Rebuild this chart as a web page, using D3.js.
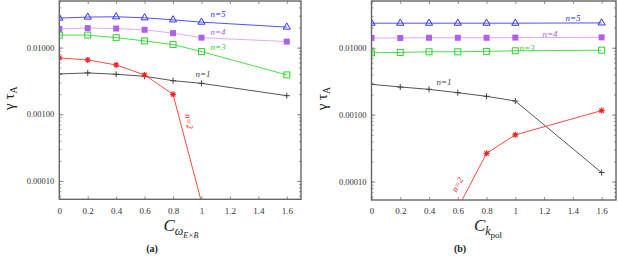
<!DOCTYPE html>
<html><head><meta charset="utf-8">
<script src="https://cdn.jsdelivr.net/npm/d3@7"></script>
<style>body{margin:0;background:#fff}svg{display:block}text{font-family:"Liberation Serif","Times New Roman",serif}</style>
</head><body>
<svg id="c" width="618" height="256"></svg>
<script>
// ---- data ----
const xTicks = [0, 0.2, 0.4, 0.6, 0.8, 1, 1.2, 1.4, 1.6];
const yTicks = [0.0001, 0.001, 0.01];
const yTickLabels = ["0.00010", "0.00100", "0.01000"];
const xA = [0, 0.2, 0.4, 0.6, 0.8, 1.0, 1.6];
const a_n5 = [0.0277, 0.0287, 0.0290, 0.0280, 0.0261, 0.0241, 0.0203];
const a_n4 = [0.0191, 0.0196, 0.0193, 0.0185, 0.0165, 0.0141, 0.0123];
const a_n3 = [0.0154, 0.0154, 0.0141, 0.0126, 0.0111, 0.00871, 0.00389];
const a_n1 = [0.00402, 0.00417, 0.00398, 0.00371, 0.00319, 0.00291, 0.00190];
const a_n2x = [0, 0.2, 0.4, 0.6, 0.8, 1.0];
const a_n2 = [0.0070, 0.00653, 0.00549, 0.00389, 0.00199, 0.000048];
const xB = [0, 0.2, 0.4, 0.6, 0.8, 1.0, 1.6];
const b_n5 = [0.0233, 0.0233, 0.0233, 0.0233, 0.0233, 0.0233, 0.0235];
const b_n4 = [0.0140, 0.0140, 0.0141, 0.0141, 0.0141, 0.0142, 0.0143];
const b_n3 = [0.0084, 0.00852, 0.00871, 0.00871, 0.00883, 0.00901, 0.0092];
const b_n1 = [0.00284, 0.00259, 0.00239, 0.00213, 0.00188, 0.00160, 0.000136];
const b_n2x = [0.6, 0.8, 1.0, 1.6];
const b_n2 = [0.000040, 0.000264, 0.000499, 0.00115];

const svg = d3.select("#c");
const styles = {
  n5: {line: "#5050ff", mark: "#3030ff", sym: "tri"},
  n4: {line: "#dcaaff", mark: "#b060e8", sym: "fsq"},
  n3: {line: "#48e048", mark: "#30d030", sym: "osq"},
  n1: {line: "#555", mark: "#444", sym: "plus"},
  n2: {line: "#ff4848", mark: "#ff2020", sym: "star"}
};

function panel(cfg) {
  const x = d3.scaleLinear().domain([0, 1.7]).range([cfg.x0, cfg.x1]);
  const y = d3.scaleLog().domain([5.3e-5, 0.05]).range([cfg.y1, cfg.y0]);
  const g = svg.append("g");
  const clipId = "clip" + cfg.id;
  svg.append("clipPath").attr("id", clipId).append("rect")
    .attr("x", cfg.x0).attr("y", cfg.y0).attr("width", cfg.x1 - cfg.x0).attr("height", cfg.y1 - cfg.y0);

  const minor = [];
  for (let e = -5; e <= -2; e++) for (let k = 1; k <= 9; k++) {
    const v = k * Math.pow(10, e);
    if (v >= 5.3e-5 && v <= 0.05) minor.push(v);
  }
  const axL = g.append("g").attr("transform", `translate(${cfg.x0},0)`)
    .call(d3.axisRight(y).tickValues(minor).tickSize(2).tickFormat(""));
  const axR = g.append("g").attr("transform", `translate(${cfg.x1},0)`)
    .call(d3.axisLeft(y).tickValues(minor).tickSize(2).tickFormat(""));
  const axLm = g.append("g").attr("transform", `translate(${cfg.x0},0)`)
    .call(d3.axisRight(y).tickValues(yTicks).tickSize(4).tickFormat(""));
  const axRm = g.append("g").attr("transform", `translate(${cfg.x1},0)`)
    .call(d3.axisLeft(y).tickValues(yTicks).tickSize(4).tickFormat(""));
  const axLab = g.append("g").attr("transform", `translate(${cfg.x0},0)`)
    .call(d3.axisLeft(y).tickValues(yTicks).tickSize(0).tickPadding(5).tickFormat((d, i) => yTickLabels[i]));
  const axB = g.append("g").attr("transform", `translate(0,${cfg.y1})`)
    .call(d3.axisTop(x).tickValues(xTicks).tickSize(3).tickFormat(""));
  const axT = g.append("g").attr("transform", `translate(0,${cfg.y0})`)
    .call(d3.axisBottom(x).tickValues(xTicks).tickSize(3).tickFormat(""));
  const axBl = g.append("g").attr("transform", `translate(0,${cfg.y1})`)
    .call(d3.axisBottom(x).tickValues(xTicks).tickSize(0).tickPadding(8).tickFormat(d => d3.format("")(d)));
  [axL, axR, axLm, axRm, axLab, axB, axT, axBl].forEach(a => {
    a.attr("font-family", null);
    a.select(".domain").remove();
    a.selectAll("line").attr("stroke", "#777").attr("stroke-width", 0.8);
    a.selectAll("text").attr("fill", "#333");
  });
  axLab.selectAll("text").attr("font-size", 8.5);
  axBl.selectAll("text").attr("font-size", 9);

  const lineGen = d3.line().x(d => x(d[0])).y(d => y(d[1]));
  const plotG = g.append("g").attr("clip-path", `url(#${clipId})`);
  cfg.series.forEach(s => {
    const st = styles[s.key];
    const pts = s.xs.map((xv, i) => [xv, s.ys[i]]);
    plotG.append("path").attr("d", lineGen(pts)).attr("fill", "none")
      .attr("stroke", st.line).attr("stroke-width", 1);
    pts.forEach(p => {
      const px = x(p[0]), py = y(p[1]);
      if (py > cfg.y1) return;
      const m = plotG.append("g").attr("transform", `translate(${px},${py})`);
      if (st.sym === "tri") {
        m.append("path").attr("d", d3.symbol(d3.symbolTriangle, 22)())
          .attr("fill", "none").attr("stroke", st.mark).attr("stroke-width", 1);
      } else if (st.sym === "fsq") {
        m.append("rect").attr("x", -3).attr("y", -3).attr("width", 6).attr("height", 6).attr("fill", st.mark);
      } else if (st.sym === "osq") {
        m.append("rect").attr("x", -3).attr("y", -3).attr("width", 6).attr("height", 6)
          .attr("fill", "none").attr("stroke", st.mark).attr("stroke-width", 1);
      } else if (st.sym === "plus") {
        m.append("path").attr("d", "M-3,0H3M0,-3V3").attr("stroke", st.mark).attr("stroke-width", 1);
      } else if (st.sym === "star") {
        m.append("path").attr("d", "M-3,0H3M0,-3V3M-2.2,-2.2L2.2,2.2M-2.2,2.2L2.2,-2.2")
          .attr("stroke", st.mark).attr("stroke-width", 1.1);
        m.append("rect").attr("x", -1.3).attr("y", -1.3).attr("width", 2.6).attr("height", 2.6).attr("fill", st.mark);
      }
    });
  });

  g.append("rect").attr("x", cfg.x0).attr("y", cfg.y0).attr("width", cfg.x1 - cfg.x0).attr("height", cfg.y1 - cfg.y0)
    .attr("fill", "none").attr("stroke", "#666").attr("stroke-width", 1.4);

  cfg.labels.forEach(l => {
    g.append("text").attr("font-size", 9).attr("fill", styles[l.key].mark)
      .attr("font-style", "italic").attr("text-anchor", "middle")
      .attr("transform", `translate(${l.x},${l.y}) rotate(${l.r || 0})`).text(l.t);
  });

  const yt = g.append("text").attr("transform", `translate(${cfg.x0 - 45},${(cfg.y0 + cfg.y1) / 2 - 2}) rotate(-90)`)
    .attr("text-anchor", "middle").attr("font-size", 15).attr("fill", "#222");
  yt.append("tspan").text("γ τ");
  yt.append("tspan").attr("font-size", 10).attr("dy", 3).text("A");

  const xt = g.append("text").attr("x", cfg.xc).attr("y", 231).attr("text-anchor", "middle").attr("fill", "#222");
  xt.append("tspan").attr("font-size", 17).attr("font-style", "italic").text("C");
  cfg.xsub(xt);

  g.append("text").attr("x", cfg.pc).attr("y", 252).attr("text-anchor", "middle")
    .attr("font-size", 10).attr("font-weight", "bold").attr("fill", "#222").text(cfg.plabel);
}

panel({
  id: "a", x0: 59.3, x1: 301, y0: 1, y1: 199.3, xc: 181, pc: 152, plabel: "(a)",
  series: [
    {key: "n5", xs: xA, ys: a_n5}, {key: "n4", xs: xA, ys: a_n4}, {key: "n3", xs: xA, ys: a_n3},
    {key: "n1", xs: xA, ys: a_n1}, {key: "n2", xs: a_n2x, ys: a_n2}
  ],
  labels: [
    {key: "n5", t: "n=5", x: 218, y: 17}, {key: "n4", t: "n=4", x: 218, y: 35},
    {key: "n3", t: "n=3", x: 218, y: 50}, {key: "n1", t: "n=1", x: 203, y: 77},
    {key: "n2", t: "n=2", x: 186, y: 122, r: 80}
  ],
  xsub: xt => {
    xt.append("tspan").attr("font-size", 12).attr("font-style", "italic").attr("dy", 4).text("ω");
    xt.append("tspan").attr("font-size", 8).attr("font-style", "italic").attr("dy", 3).text("E×B");
  }
});
panel({
  id: "b", x0: 371.5, x1: 616, y0: 1, y1: 200, xc: 488, pc: 460, plabel: "(b)",
  series: [
    {key: "n5", xs: xB, ys: b_n5}, {key: "n4", xs: xB, ys: b_n4}, {key: "n3", xs: xB, ys: b_n3},
    {key: "n1", xs: xB, ys: b_n1}, {key: "n2", xs: b_n2x, ys: b_n2}
  ],
  labels: [
    {key: "n5", t: "n=5", x: 573, y: 21}, {key: "n4", t: "n=4", x: 550, y: 37},
    {key: "n3", t: "n=3", x: 527, y: 51}, {key: "n1", t: "n=1", x: 444, y: 85},
    {key: "n2", t: "n=2", x: 460, y: 186, r: -62}
  ],
  xsub: xt => {
    xt.append("tspan").attr("font-size", 12).attr("font-style", "italic").attr("dy", 4).text("k");
    xt.append("tspan").attr("font-size", 9).attr("dy", 3).text("pol");
  }
});
</script>
</body></html>
